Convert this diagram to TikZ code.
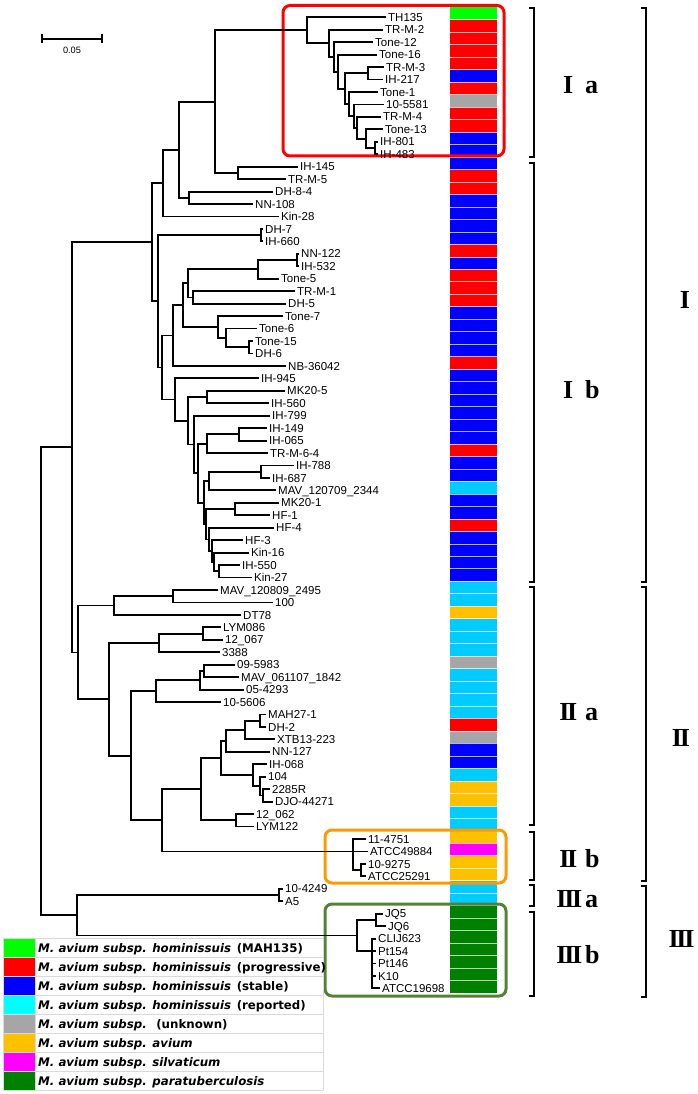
\documentclass[tikz,border=0pt]{standalone}
\usepackage{fontspec}
\setmainfont{Liberation Sans}
\newfontfamily\leaffont{Liberation Sans}
\newfontfamily\legfont{DejaVu Sans}[BoldFont={DejaVu Sans Bold},ItalicFont={DejaVu Sans Oblique},BoldItalicFont={DejaVu Sans Bold Oblique}]
\newfontfamily\romfont{Liberation Serif}
\definecolor{cG}{RGB}{0,255,0}
\definecolor{cR}{RGB}{255,0,0}
\definecolor{cB}{RGB}{0,0,255}
\definecolor{cC}{RGB}{0,204,255}
\definecolor{cCl}{RGB}{0,255,255}
\definecolor{cY}{RGB}{166,166,166}
\definecolor{cO}{RGB}{255,192,0}
\definecolor{cM}{RGB}{255,0,255}
\definecolor{cD}{RGB}{0,128,0}
\definecolor{boxO}{RGB}{255,153,0}
\definecolor{boxG}{RGB}{84,130,53}
\definecolor{gridc}{RGB}{217,217,217}
\newcommand\numI{I}
\newcommand\numII{I\kern-2.2pt I}
\newcommand\numIII{I\kern-2.2pt I\kern-2.2pt I}
\begin{document}
\begin{tikzpicture}[x=1pt,y=-1pt,
  tree/.style={line width=1.85pt, line cap=rect},
  leaf/.style={font=\leaffont\fontsize{11.5}{12}\selectfont, anchor=west, inner xsep=3pt, inner ysep=0pt, text height=8.2pt, text depth=0pt},
  brk/.style={line width=1.7pt},
  clab/.style={font=\romfont\bfseries\fontsize{26}{26}\selectfont, inner sep=0pt},
  legtxt/.style={font=\legfont\bfseries\fontsize{11.8}{14}\selectfont, anchor=base west, inner sep=0pt},
  cbox/.style={line width=3pt, rounded corners=7pt}]
\useasboundingbox (0,0) rectangle (697,1094);

% colour bar
\foreach \c [count=\i from 0] in {cG,cR,cR,cR,cR,cB,cR,cY,cR,cR,cB,cB,
  cB,cR,cR,cB,cB,cB,cB,cR,cB,cR,cR,cR,cB,cB,cB,cB,cR,cB,cB,cB,cB,cB,cB,cR,cB,cB,cC,cB,cB,cR,cB,cB,cB,cB,
  cC,cC,cO,cC,cC,cC,cY,cC,cC,cC,cC,cR,cY,cB,cB,cC,cO,cO,cC,cC,
  cO,cM,cO,cO,cC,cC,cD,cD,cD,cD,cD,cD,cD}
  \fill[\c] (450,{7.3+12.477*\i}) rectangle (497,{7.3+12.477*(\i+1)});
\foreach \i in {1,...,78}
  \draw[white, line width=0.6pt, opacity=0.7] (450,{7.3+12.477*\i}) -- (497,{7.3+12.477*\i});

% clade boxes
\draw[cbox, cR] (283,5.5) rectangle (504,156);
\draw[cbox, boxO] (325,830) rectangle (506,883);
\draw[cbox, boxG] (325,904) rectangle (506,996);

% scale bar
\draw[line width=1.3pt] (42,39) -- (102,39);
\draw[line width=1.3pt] (42,34.5) -- (42,43.5);
\draw[line width=1.3pt] (102,34.5) -- (102,43.5);
\node[font=\leaffont\fontsize{9.2}{10}\selectfont, inner sep=0pt] (scl) at (72,50) {0.05};

% leaves
\foreach \r/\x/\t in {0/385/TH135,1/382/TR-M-2,2/372/Tone-12,3/376/Tone-16,4/383/TR-M-3,5/382/IH-217,
  6/377/Tone-1,7/383/10-5581,8/380/TR-M-4,9/382/Tone-13,10/377/IH-801,11/377/IH-483,
  12/297/IH-145,13/285/TR-M-5,14/272/DH-8-4,15/252/NN-108,16/278/Kin-28,17/262/DH-7,18/262/IH-660,
  19/298/NN-122,20/298/IH-532,21/278/Tone-5,22/294/TR-M-1,23/285/DH-5,24/282/Tone-7,25/256/Tone-6,
  26/252/Tone-15,27/252/DH-6,28/285/NB-36042,29/258/IH-945,30/284/MK20-5,31/268/IH-560,32/269/IH-799,
  33/266/IH-149,34/266/IH-065,35/267/TR-M-6-4,36/293/IH-788,37/269/IH-687,38/275/MAV\_120709\_2344,
  39/278/MK20-1,40/269/HF-1,41/273/HF-4,42/242/HF-3,43/248/Kin-16,44/239/IH-550,45/251/Kin-27,
  46/217/MAV\_120809\_2495,47/272/100,48/240/DT78,49/220/LYM086,50/222/12\_067,51/219/3388,
  52/234/09-5983,53/238/MAV\_061107\_1842,54/243/05-4293,55/220/10-5606,56/265/MAH27-1,57/265/DH-2,
  58/274/XTB13-223,59/269/NN-127,60/266/IH-068,61/265/104,62/269/2285R,63/272/DJO-44271,
  64/253/12\_062,65/253/LYM122,66/365/11-4751,67/367/ATCC49884,68/365/10-9275,69/365/ATCC25291,
  70/282/10-4249,71/282/A5,72/382/JQ5,73/385/JQ6,74/375/CLIJ623,75/375/Pt154,76/375/Pt146,
  77/375/K10,78/379/ATCC19698}
  \node[leaf] (l\r) at (\x,{17.3+12.45*\r}) {\t};

% internal nodes
\coordinate (ia) at (307,30.32);
\coordinate (n329) at (329,43.34);
\coordinate (n334) at (334,56.93);
\coordinate (n338) at (338,71.67);
\coordinate (n345) at (345,88.69);
\coordinate (n368) at (368,73.33);
\coordinate (n349) at (349,104.06);
\coordinate (n354) at (354,116.12);
\coordinate (n357) at (357,127.80);
\coordinate (n366) at (366,138.69);
\coordinate (n375) at (375,148.03);
\coordinate (A) at (215,101.62);
\coordinate (n238) at (238,172.93);
\coordinate (B) at (179,149.72);
\coordinate (n189) at (189,197.83);
\coordinate (C) at (163,183.11);
\coordinate (D) at (152,242.24);
\coordinate (E) at (158,301.37);
\coordinate (n261) at (261,235.18);
\coordinate (E2) at (162,367.55);
\coordinate (E3) at (173,335.56);
\coordinate (E4) at (183,305.21);
\coordinate (n188) at (188,283.42);
\coordinate (n258) at (258,269.41);
\coordinate (n297) at (297,260.08);
\coordinate (n193) at (193,297.43);
\coordinate (T) at (218,327.00);
\coordinate (n226) at (226,337.89);
\coordinate (n249) at (249,347.23);
\coordinate (U) at (175,399.54);
\coordinate (V) at (188,420.74);
\coordinate (n207a) at (207,397.03);
\coordinate (W) at (194,444.44);
\coordinate (X) at (198,473.18);
\coordinate (n207b) at (207,443.71);
\coordinate (n239) at (239,434.38);
\coordinate (Y) at (204,502.66);
\coordinate (Z1) at (209,481.06);
\coordinate (n261b) at (261,471.73);
\coordinate (nmk) at (206,524.25);
\coordinate (n235) at (235,509.08);
\coordinate (nhf4) at (209,539.42);
\coordinate (nhf3) at (212,551.09);
\coordinate (nk16) at (214,561.99);
\coordinate (nkin) at (219,571.33);
\coordinate (F) at (72,447.34);
\coordinate (G) at (78,652.44);
\coordinate (H) at (114,605.56);
\coordinate (n173) at (173,596.23);
\coordinate (I) at (109,699.33);
\coordinate (J) at (159,642.91);
\coordinate (n203) at (203,633.58);
\coordinate (K) at (131,755.74);
\coordinate (L) at (156,691.16);
\coordinate (M) at (200,680.26);
\coordinate (n204) at (204,670.93);
\coordinate (O) at (162,820.33);
\coordinate (P) at (201,789.20);
\coordinate (n221) at (221,758.08);
\coordinate (n226b) at (226,740.96);
\coordinate (n245) at (245,730.06);
\coordinate (n260) at (260,720.73);
\coordinate (n253) at (253,775.19);
\coordinate (n260b) at (260,786.09);
\coordinate (n263) at (263,795.43);
\coordinate (n236) at (236,820.33);
\coordinate (IIb) at (353,851.45);
\coordinate (n361) at (361,870.13);
\coordinate (R) at (41,681.30);
\coordinate (S) at (77,915.26);
\coordinate (n279) at (279,895.03);
\coordinate (IIIb) at (357,935.49);
\coordinate (n376) at (376,919.93);
\coordinate (n372) at (372,951.05);

% branches
\foreach \p/\c in {ia/l0.west,ia/n329,n329/l1.west,n329/n334,n334/l2.west,n334/n338,
  n338/l3.west,n338/n345,n345/n368,n345/n349,n368/l4.west,n368/l5.west,n349/l6.west,n349/n354,
  n354/l7.west,n354/n357,n357/l8.west,n357/n366,n366/l9.west,n366/n375,n375/l10.west,n375/l11.west,
  A/ia,A/n238,n238/l12.west,n238/l13.west,B/A,B/n189,n189/l14.west,n189/l15.west,C/B,C/l16.west,
  D/C,D/E,E/n261,E/E2,n261/l17.west,n261/l18.west,E2/E3,E2/U,E3/E4,E3/l28.west,E4/n188,E4/T,
  n188/n258,n188/n193,n258/n297,n258/l21.west,n297/l19.west,n297/l20.west,n193/l22.west,n193/l23.west,
  T/l24.west,T/n226,n226/l25.west,n226/n249,n249/l26.west,n249/l27.west,U/l29.west,U/V,
  V/n207a,V/W,n207a/l30.west,n207a/l31.west,W/l32.west,W/X,X/n207b,X/Y,n207b/n239,n207b/l35.west,
  n239/l33.west,n239/l34.west,Y/Z1,Y/nmk,Z1/n261b,Z1/l38.west,n261b/l36.west,n261b/l37.west,
  nmk/n235,nmk/nhf4,n235/l39.west,n235/l40.west,nhf4/l41.west,nhf4/nhf3,nhf3/l42.west,nhf3/nk16,
  nk16/l43.west,nk16/nkin,nkin/l44.west,nkin/l45.west,
  F/D,F/G,G/H,G/I,H/n173,H/l48.west,n173/l46.west,n173/l47.west,I/J,I/K,J/n203,J/l51.west,
  n203/l49.west,n203/l50.west,K/L,K/O,L/M,L/l55.west,M/n204,M/l54.west,n204/l52.west,n204/l53.west,
  O/P,O/IIb,P/n221,P/n236,n221/n226b,n221/n253,n226b/n245,n226b/l59.west,n245/n260,n245/l58.west,
  n260/l56.west,n260/l57.west,n253/l60.west,n253/n260b,n260b/l61.west,n260b/n263,n263/l62.west,
  n263/l63.west,n236/l64.west,n236/l65.west,IIb/l66.west,IIb/l67.west,IIb/n361,n361/l68.west,
  n361/l69.west,R/F,R/S,S/n279,S/IIIb,n279/l70.west,n279/l71.west,IIIb/n376,IIIb/n372,
  n376/l72.west,n376/l73.west,n372/l74.west,n372/l75.west,n372/l76.west,n372/l77.west,n372/l78.west}
  \draw[tree] (\p) |- (\c);

% brackets
\foreach \a/\b in {8.3/157,163/582,587/825,832/880,885/906,912/996}
  \draw[brk] (529,\a) -- (534,\a) -- (534,\b) -- (529,\b);
\foreach \a/\b in {8.3/582,587/881,886/997}
  \draw[brk] (641,\a) -- (646,\a) -- (646,\b) -- (641,\b);

% clade labels
\node[clab, anchor=base east] (nIa) at (573.5,94) {\numI};
\node[clab, anchor=base west] (lIa) at (585,94) {a};
\node[clab, anchor=base east] (nIb) at (573.5,398.5) {\numI};
\node[clab, anchor=base west] (lIb) at (585,398.5) {b};
\node[clab, anchor=base east] (nIIa) at (577.5,720) {\numII};
\node[clab, anchor=base west] (lIIa) at (585,720) {a};
\node[clab, anchor=base east] (nIIb) at (577.5,867) {\numII};
\node[clab, anchor=base west] (lIIb) at (585,867) {b};
\node[clab, anchor=base east] (nIIIa) at (582.5,907) {\numIII};
\node[clab, anchor=base west] (lIIIa) at (585,907) {a};
\node[clab, anchor=base east] (nIIIb) at (582.5,963) {\numIII};
\node[clab, anchor=base west] (lIIIb) at (585,963) {b};
\node[clab, anchor=base] (nI) at (685,308) {\numI};
\node[clab, anchor=base] (nII) at (681,746) {\numII};
\node[clab, anchor=base] (nIII) at (681.5,947) {\numIII};

% legend
\foreach \c [count=\k from 0] in {cG,cR,cB,cCl,cY,cO,cM,cD}
  \fill[\c] (3,{938.3+19*\k}) rectangle (35,{938.3+19*(\k+1)});
\foreach \k in {0,...,8}
  \draw[gridc, line width=0.8pt] (3,{938.3+19*\k}) -- (323,{938.3+19*\k});
\draw[gridc, line width=0.8pt] (3,938.3) -- (3,1090.3);
\draw[gridc, line width=0.8pt] (35,938.3) -- (35,1090.3);
\draw[gridc, line width=0.8pt] (323,938.3) -- (323,1090.3);
\node[legtxt] (t1) at (38,{947.8+4.3}) {{\itshape M. avium subsp. hominissuis}\hspace{1.5pt} (MAH135)};
\node[legtxt] (t2) at (38,{966.8+4.3}) {{\itshape M. avium subsp. hominissuis}\hspace{1.5pt} (progressive)};
\node[legtxt] (t3) at (38,{985.8+4.3}) {{\itshape M. avium subsp. hominissuis}\hspace{1.5pt} (stable)};
\node[legtxt] (t4) at (38,{1004.8+4.3}) {{\itshape M. avium subsp. hominissuis}\hspace{1.5pt} (reported)};
\node[legtxt] (t5) at (38,{1023.8+4.3}) {{\itshape M. avium subsp.}\hspace{4pt} (unknown)};
\node[legtxt] (t6) at (38,{1042.8+4.3}) {\itshape M. avium subsp. avium};
\node[legtxt] (t7) at (38,{1061.8+4.3}) {\itshape M. avium subsp. silvaticum};
\node[legtxt] (t8) at (38,{1080.8+4.3}) {\itshape M. avium subsp. paratuberculosis};
\end{tikzpicture}
\end{document}
